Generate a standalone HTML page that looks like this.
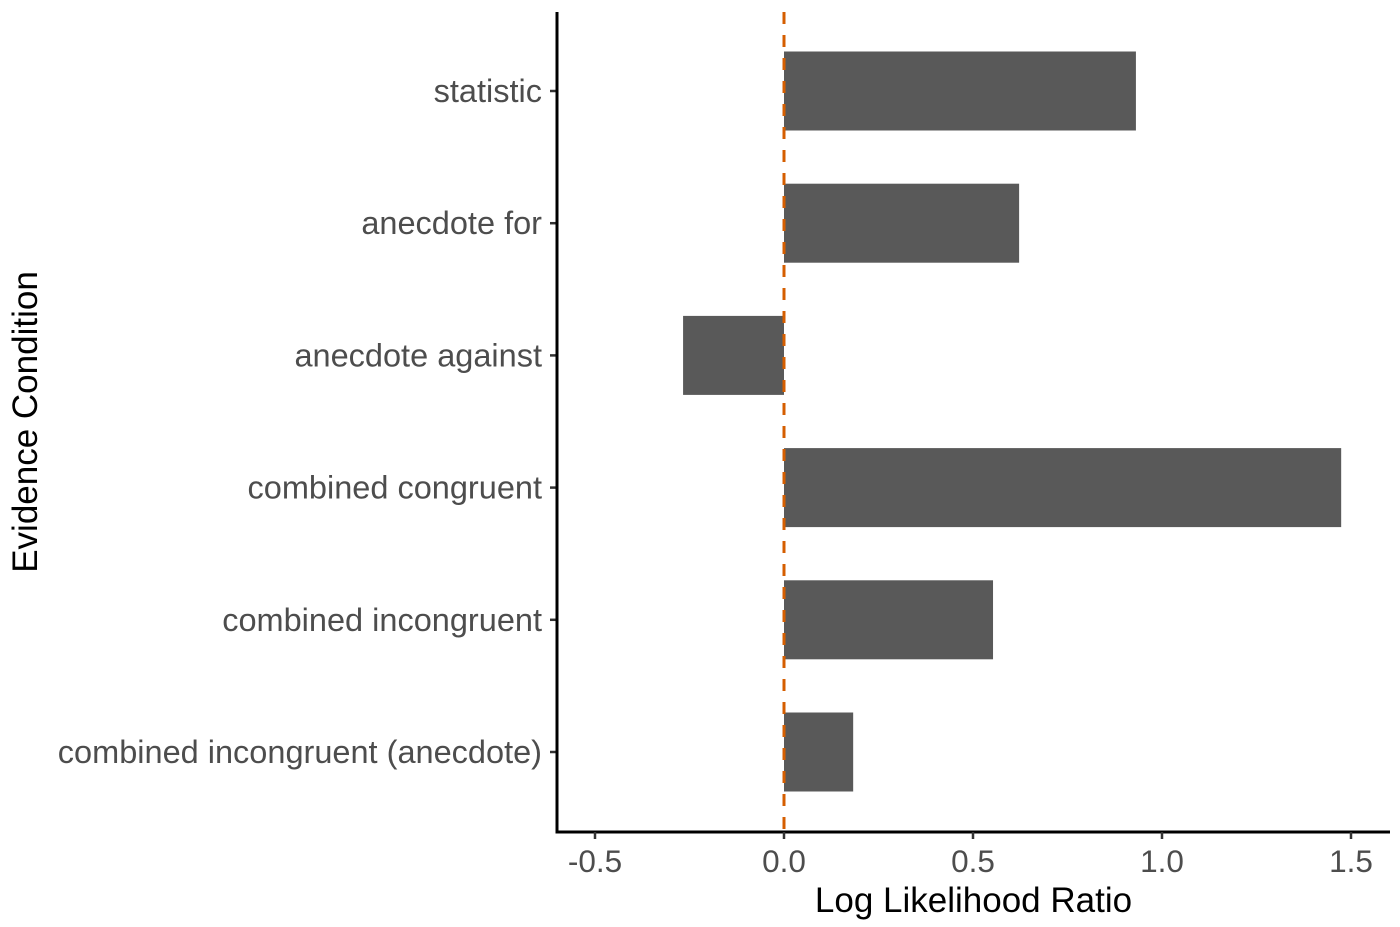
<!DOCTYPE html>
<html><head><meta charset="utf-8"><style>
body{margin:0;background:#fff}
svg{display:block;font-family:"Liberation Sans",Arial,sans-serif}
</style></head><body>
<svg id="c" width="1400" height="927"></svg>
<script>
const categories=["statistic","anecdote for","anecdote against","combined congruent","combined incongruent","combined incongruent (anecdote)"];
const values=[0.931,0.622,-0.267,1.474,0.553,0.183];
const xTicks=[-0.5,0,0.5,1.0,1.5];
const xTickLabels=["-0.5","0.0","0.5","1.0","1.5"];
const NS="http://www.w3.org/2000/svg";
const svg=document.getElementById('c');
const X0=784,PXU=378,L=557,R=1390,T=12,B=832;
const x=v=>X0+v*PXU;
const y0=91,step=132.2;
const y=i=>y0+i*step;
const bh=79;
function mk(t,a,p){const e=document.createElementNS(NS,t);for(const k in a)e.setAttribute(k,a[k]);(p||svg).appendChild(e);return e;}
categories.forEach((c,i)=>{
 const v=values[i];
 const r=mk('rect',{x:Math.min(x(0),x(v)),y:y(i)-bh/2,width:Math.abs(x(v)-x(0)),height:bh,fill:'#595959'});
 
 
 const t=mk('line',{x1:L-7,x2:L,y1:y(i),y2:y(i),stroke:'#333','stroke-width':2.5});
 
 
 const l=mk('text',{x:L-15,y:y(i)+11,'text-anchor':'end','font-size':32.5,fill:'#4d4d4d'});
 l.textContent=c;
 
 
});
const ref=mk('line',{x1:x(0),x2:x(0),y1:T,y2:B,stroke:'#d55e00','stroke-width':3,'stroke-dasharray':'12 11'});


const ya=mk('line',{x1:L,x2:L,y1:T,y2:B+1.5,stroke:'#000','stroke-width':3});


const xa=mk('line',{x1:L-1.5,x2:R,y1:B,y2:B,stroke:'#000','stroke-width':3});


xTicks.forEach((v,i)=>{
 const t=mk('line',{x1:x(v),x2:x(v),y1:B,y2:B+7,stroke:'#333','stroke-width':2.5});
 
 
 const l=mk('text',{x:x(v),y:B+40,'text-anchor':'middle','font-size':31.5,fill:'#4d4d4d'});
 l.textContent=xTickLabels[i];
 
 
});
const xt=mk('text',{x:(L+R)/2,y:912,'text-anchor':'middle','font-size':35,fill:'#000'});
xt.textContent='Log Likelihood Ratio';


const yt=mk('text',{x:0,y:0,'text-anchor':'middle','font-size':35,fill:'#000',transform:'translate(37,422) rotate(-90)'});
yt.textContent='Evidence Condition';


</script>
</body></html>
